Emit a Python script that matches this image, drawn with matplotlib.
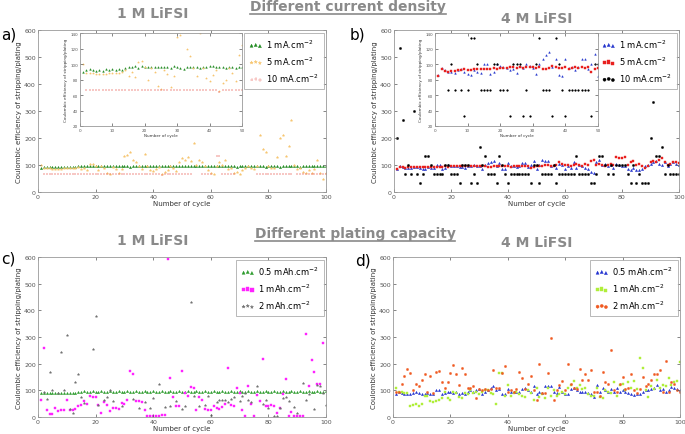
import numpy as np
import matplotlib.pyplot as plt
from matplotlib.lines import Line2D

nan = np.nan
cycles = np.arange(1, 101)

# (a) 1 M LiFSI, different current density
a_1mA = [90, 92, 93, 92, 91, 92, 91, 93, 92, 93,
         92, 93, 92, 95, 96, 96, 97, 95, 98, 96,
         96, 96, 96, 96, 96, 96, 96, 95, 97, 96,
         95, 94, 96, 96, 96, 96, 95, 96, 96, 97,
         98, 96, 96, 96, 95, 96, 96, 95, 96, 96,
         95, 96, 97, 96, 96, 95, 96, 96, 95, 96,
         96, 95, 96, 96, 95, 96, 96, 95, 92, 96,
         95, 98, 96, 96, 95, 96, 96, 95, 92, 96,
         95, 96, 95, 94, 96, 96, 97, 96, 95, 96,
         93, 96, 95, 96, 96, 95, 96, 95, 96, 97]
a_5mA = [100, 89, 88, 88, 87, 87, 87, 87, 88, 88,
         88, 89, 90, 92, 85, 90, 83, 102, 104, 96,
         80, 95, 90, 72, 68, 92, 87, 70, 85, 135,
         138, 150, 120, 110, 95, 85, 140, 95, 82, 78,
         86, 92, 65, 75, 80, 95, 88, 78, 111, 125,
         120, 128, 115, 180, 100, 120, 110, 95, 80, 70,
         65, 95, 110, 100, 120, 85, 90, 70, 75, 68,
         80, 90, 95, 88, 85, 95, 210, 160, 150, 95,
         90, 88, 130, 200, 210, 135, 170, 265, 100, 85,
         90, 75, 70, 80, 72, 85, 120, 70, 50, 70]
a_10mA = [nan, 66, 66, 66, 66, 66, 66, 66, 66, 66,
          66, 66, 66, 66, 66, 66, 66, 66, 66, 66,
          66, 66, 66, 66, 66, 66, 66, 66, 66, 66,
          66, 66, 66, 66, 66, 66, 66, 66, 66, 66,
          66, 66, 64, 66, 66, 66, 66, 66, 66, 66,
          66, 66, 66, nan, nan, nan, 66, 66, 66, 66,
          nan, 133, 133, 66, 66, 66, 66, 66, nan, nan,
          nan, nan, nan, nan, nan, 66, 66, 66, 66, 66,
          66, 66, 66, 66, 66, 66, 66, 66, nan, 66,
          66, 66, 66, 66, 66, 66, 66, 66, 66, 66]

# (b) 4 M LiFSI, different current density
b_1mA = [86, 95, 92, 90, 90, 88, 92, 93, 90, 87,
         86, 92, 90, 88, 100, 100, 87, 90, 100, 97,
         96, 95, 92, 93, 88, 97, 95, 100, 98, 95,
         87, 100, 107, 112, 115, 96, 106, 86, 85, 106,
         95, 96, 92, 96, 107, 106, 93, 100, 113, 85,
         100, 118, 115, 116, 95, 100, 90, 105, 100, 85,
         95, 88, 110, 90, 100, 95, 90, 85, 75, 72,
         110, 120, 100, 105, 95, 100, 90, 105, 100, 95,
         95, 85, 80, 90, 80, 82, 85, 95, 100, 105,
         110, 115, 105, 100, 110, 95, 105, 110, 105, 100]
b_5mA = [85, 93, 91, 90, 91, 91, 92, 92, 93, 92,
         92, 93, 93, 93, 94, 94, 94, 95, 94, 95,
         95, 95, 96, 96, 95, 96, 95, 96, 96, 96,
         95, 96, 94, 93, 95, 97, 96, 95, 95, 96,
         94, 95, 96, 95, 96, 95, 96, 90, 93, 95,
         96, 98, 100, 100, 98, 95, 100, 110, 105, 100,
         100, 95, 100, 105, 100, 95, 105, 100, 115, 120,
         100, 105, 100, 95, 100, 105, 100, 130, 125, 125,
         130, 100, 110, 115, 100, 105, 95, 90, 95, 110,
         115, 110, 120, 125, 110, 100, 105, 110, 110, 108]
b_10mA = [200, 533, 267, 67, 100, 67, 300, 67, 33, 67,
          133, 133, 100, 67, 67, 67, 67, 100, 100, 67,
          67, 67, 33, 100, 100, 100, 33, 67, 33, 167,
          100, 133, 67, 67, 67, 33, 133, 100, 67, 33,
          67, 67, 67, 67, 67, 67, 67, 33, 100, 100,
          33, 67, 67, 67, 67, 100, 33, 67, 67, 67,
          67, 67, 67, 133, 67, 67, 67, 67, 33, 33,
          67, 133, 133, 100, 67, 100, 67, 100, 100, 100,
          100, 67, 33, 100, 33, 67, 33, 33, 33, 200,
          333, 133, 133, 167, 67, 100, 67, 67, 67, 67]

# (c) 1 M LiFSI, different plating capacity
c_05 = [90, 90, 91, 90, 91, 91, 90, 91, 91, 90,
        91, 91, 90, 95, 95, 96, 95, 95, 96, 95,
        95, 96, 95, 95, 96, 95, 95, 96, 95, 95,
        96, 95, 95, 96, 95, 95, 96, 95, 95, 96,
        95, 95, 96, 95, 95, 96, 95, 95, 96, 95,
        95, 96, 95, 95, 96, 95, 95, 96, 95, 95,
        96, 95, 95, 96, 95, 95, 96, 95, 95, 96,
        95, 95, 96, 95, 95, 96, 95, 95, 96, 95,
        95, 96, 95, 95, 96, 95, 95, 96, 95, 95,
        96, 95, 95, 96, 95, 95, 96, 95, 95, 96]
c_1 = [65, 259, 27, 11, 12, 35, 22, 27, 27, 65,
       27, 27, 31, 40, 46, 60, 47, 77, 75, 75,
       44, 15, 56, 44, 21, 35, 35, 31, 52, 50,
       65, 173, 160, 60, 60, 56, 25, 5, 5, 5,
       5, 5, 6, 7, 591, 147, 75, 40, 40, 174,
       91, 77, 112, 108, 27, 75, 62, 31, 25, 25,
       40, 35, 31, 37, 50, 183, 46, 40, 110, 91,
       25, 5, 118, 47, 5, 81, 60, 217, 40, 40,
       44, 40, 15, 34, 85, 143, 5, 18, 5, 5,
       5, 5, 311, 118, 212, 168, 125, 125, 276, nan]
c_2 = [nan, 95, 67, 167, 100, nan, 90, 242, 100, 306,
       30, 15, 133, 163, 75, 52, nan, nan, 255, 380,
       45, nan, 65, 75, 100, 60, nan, nan, 40, nan,
       nan, nan, 68, nan, 35, nan, 55, nan, 35, 70,
       nan, 122, nan, 38, nan, 40, nan, 60, nan, 30,
       40, nan, 432, 80, nan, 40, nan, 45, 80, 8,
       nan, 55, 65, 65, 65, 55, 68, 75, nan, 60,
       80, 90, 65, 55, nan, 118, nan, 50, 65, 35,
       nan, 5, 5, 35, 70, 75, 60, nan, 37, 15,
       nan, 127, 65, 85, nan, 30, 120, 115, 90, 45]

# (d) 4 M LiFSI, different plating capacity
d_05 = [85, 92, 90, 88, 88, 87, 90, 92, 90, 88,
        85, 90, 88, 88, 100, 100, 85, 90, 95, 92,
        90, 92, 88, 90, 88, 95, 100, 95, 100, 105,
        88, 95, 100, 110, 115, 100, 105, 85, 88, 105,
        95, 92, 95, 95, 105, 110, 100, 95, 115, 85,
        95, 90, 118, 115, 115, 95, 90, 112, 95, 88,
        85, 105, 110, 100, 95, 92, 95, 90, 85, 75,
        120, 95, 110, 100, 95, 105, 92, 110, 95, 100,
        92, 90, 85, 82, 85, 88, 92, 100, 100, 105,
        110, 120, 100, 105, 95, 100, 112, 110, 105, 100]
d_1 = [110, 95, 92, 90, 90, 40, 45, 48, 42, 50,
       78, 78, 60, 55, 60, 65, 70, 95, 72, 65,
       95, 90, 75, 72, 90, 85, 100, 90, 95, 85,
       95, 100, 100, 90, 85, 50, 165, 165, 80, 120,
       80, 90, 95, 85, 80, 75, 100, 90, 65, 110,
       75, 85, 70, 110, 80, 100, 80, 85, 95, 85,
       110, 120, 135, 110, 120, 105, 110, 85, 80, 80,
       110, 75, 70, 100, 95, 90, 130, 80, 120, 125,
       100, 130, 110, 135, 105, 220, 185, 100, 75, 115,
       105, 140, 110, 120, 115, 145, 120, 130, 135, 205]
d_2 = [95, 95, 125, 155, 180, 165, 100, 125, 115, 140,
       160, 95, 155, 90, 170, 172, 130, 110, 130, 165,
       195, 160, 120, 185, 160, 110, 110, 115, 70, 105,
       100, 105, 100, 105, 175, 110, 110, 165, 190, 95,
       100, 95, 105, 170, 145, 105, 125, 155, 100, 65,
       200, 90, 90, 165, 295, 65, 100, 120, 135, 100,
       200, 125, 110, 105, 180, 140, 160, 140, 175, 95,
       95, 80, 170, 130, 125, 250, 100, 95, 125, 150,
       105, 110, 160, 100, 90, 105, 150, 115, 125, 140,
       160, 160, 175, 95, 210, 95, 130, 125, 100, 95]

W, H = 685, 435
GRAY = '#8a8a8a'


def rect(l, t, r, b):
    return [l / W, 1 - b / H, (r - l) / W, (b - t) / H]


def style_axes(ax, fs=4.5, label_fs=5):
    for s in ax.spines.values():
        s.set_color('#999999')
        s.set_linewidth(0.6)
    ax.tick_params(direction='in', labelsize=fs, colors='#555555', length=2,
                   width=0.5, top=True, right=True, pad=1.5)
    ax.set_xlabel('Number of cycle', fontsize=label_fs, color='#333333', labelpad=1)
    ax.set_ylabel('Coulombic efficiency of stripping/plating', fontsize=label_fs,
                  color='#333333', labelpad=1.5)


def main_panel(ax, series):
    for y, lab, c, m, ms in series:
        ax.scatter(cycles, y, s=ms, marker=m, color=c, label=lab, linewidths=0.3)
    ax.set_xlim(0, 100)
    ax.set_ylim(0, 600)
    ax.set_xticks([0, 20, 40, 60, 80, 100])
    ax.set_yticks([0, 100, 200, 300, 400, 500, 600])
    style_axes(ax)
    leg = ax.legend(loc='upper right', fontsize=6, scatterpoints=3, fancybox=False,
                    borderaxespad=0.3, handletextpad=0.4, labelspacing=0.55,
                    borderpad=0.6, markerscale=1.4, handlelength=1.6)
    leg.get_frame().set_edgecolor('#999999')
    leg.get_frame().set_linewidth(0.6)


def inset_panel(ax, series):
    for y, lab, c, m, ms in series:
        ax.scatter(cycles[:50], y[:50], s=ms * 0.6, marker=m, color=c, linewidths=0.3)
    ax.set_xlim(0, 50)
    ax.set_ylim(20, 140)
    ax.set_xticks([0, 10, 20, 30, 40, 50])
    ax.set_yticks([20, 40, 60, 80, 100, 120, 140])
    style_axes(ax, fs=3, label_fs=3)


fig = plt.figure(figsize=(W / 100, H / 100), dpi=100)

ser_a = [(a_1mA, '1 mA.cm$^{-2}$', '#1f8a1f', '^', 2.5),
         (a_5mA, '5 mA.cm$^{-2}$', '#f7c46c', '*', 3),
         (a_10mA, '10 mA.cm$^{-2}$', '#ee7b74', '+', 3)]
ser_b = [(b_1mA, '1 mA.cm$^{-2}$', '#2233cc', '^', 2.5),
         (b_5mA, '5 mA.cm$^{-2}$', '#e8201e', 's', 2.5),
         (b_10mA, '10 mA.cm$^{-2}$', '#000000', 'o', 2.5)]
ser_c = [(c_05, '0.5 mAh.cm$^{-2}$', '#2a9a2a', '^', 2.5),
         (c_1, '1 mAh.cm$^{-2}$', '#ff22ff', 's', 3),
         (c_2, '2 mAh.cm$^{-2}$', '#6e6e6e', '*', 3)]
ser_d = [(d_05, '0.5 mAh.cm$^{-2}$', '#2030d0', '^', 2.5),
         (d_1, '1 mAh.cm$^{-2}$', '#b0ee3a', 's', 2.5),
         (d_2, '2 mAh.cm$^{-2}$', '#f05a22', 'h', 3)]

ax_a = fig.add_axes(rect(38, 31, 326, 193))
main_panel(ax_a, ser_a)
ax_b = fig.add_axes(rect(394, 31, 679, 193))
main_panel(ax_b, ser_b)
ax_c = fig.add_axes(rect(38, 258, 326, 418))
main_panel(ax_c, ser_c)
ax_d = fig.add_axes(rect(393, 258, 680, 418))
main_panel(ax_d, ser_d)

in_a = fig.add_axes(rect(80, 34, 242, 127))
inset_panel(in_a, ser_a)
in_b = fig.add_axes(rect(435, 34, 598, 127))
inset_panel(in_b, ser_b)

# titles
for x, y, s in [(153, 14, '1 M LiFSI'), (537, 19, '4 M LiFSI'),
                (153, 241, '1 M LiFSI'), (537, 243, '4 M LiFSI')]:
    fig.text(x / W, 1 - y / H, s, ha='center', va='center', fontsize=10,
             fontweight='bold', color=GRAY)

heads = []
for x, y, s in [(348, 7, 'Different current density'),
                (355, 234, 'Different plating capacity')]:
    heads.append(fig.text(x / W, 1 - y / H, s, ha='center', va='center', fontsize=10,
                          fontweight='bold', color=GRAY))

for x, y, s in [(1, 35, 'a)'), (350, 35, 'b)'), (1, 259, 'c)'), (355, 261, 'd)')]:
    fig.text(x / W, 1 - y / H, s, ha='left', va='center', fontsize=11, color='black')

fig.canvas.draw()
for t in heads:
    bb = t.get_window_extent()
    yline = bb.y0 - 0.5
    fig.add_artist(Line2D([bb.x0 / W, bb.x1 / W], [yline / H, yline / H],
                          transform=fig.transFigure, color=GRAY, lw=1.2))

fig.savefig('out.png', dpi=100)
